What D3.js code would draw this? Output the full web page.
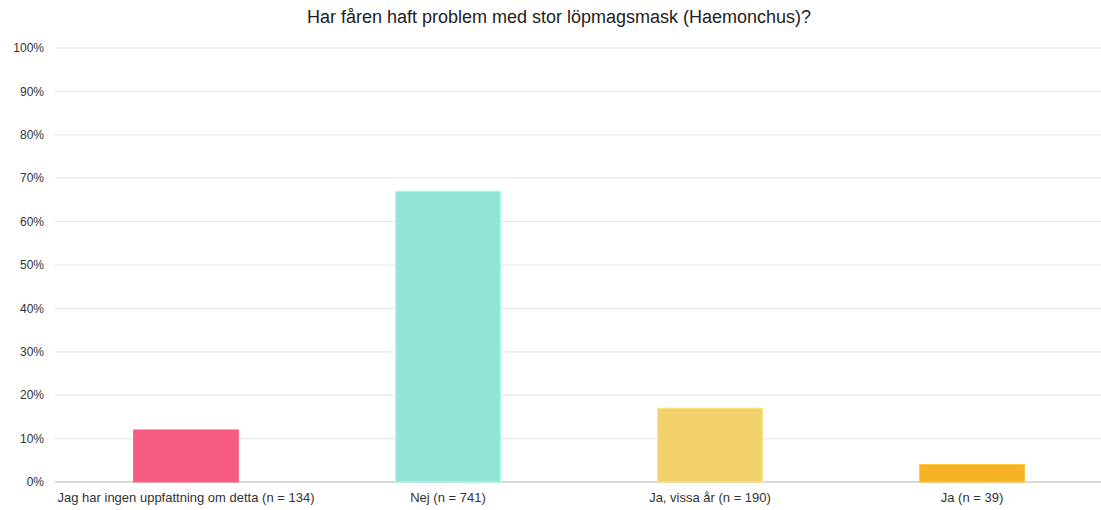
<!DOCTYPE html>
<html>
<head>
<meta charset="utf-8">
<script src="https://cdn.jsdelivr.net/npm/d3@7"></script>
<style>
  body { margin: 0; background: #fff; }
  text { font-family: "Liberation Sans", Arial, sans-serif; }
</style>
</head>
<body>
<div id="graph"></div>
<script>
var title = 'Har fåren haft problem med stor löpmagsmask (Haemonchus)?';
var categories = ['Jag har ingen uppfattning om detta (n = 134)', 'Nej (n = 741)', 'Ja, vissa år (n = 190)', 'Ja (n = 39)'];
var values = [12, 67, 17, 4];
var colors = ['#f65b80', '#93e5d7', '#f2d16c', '#f5b324'];
var yTicks = [0, 10, 20, 30, 40, 50, 60, 70, 80, 90, 100];

var width = 1101, height = 510;
var margin = {top: 48, right: 0, bottom: 28, left: 55};

var svg = d3.select('#graph').append('svg')
    .attr('width', width)
    .attr('height', height);

var x = d3.scaleBand()
    .domain(categories)
    .range([margin.left, margin.left + 4 * 262])
    .paddingInner(0.6)
    .paddingOuter(0.3);

var y = d3.scaleLinear()
    .domain([0, 100])
    .range([height - margin.bottom, margin.top]);

// gridlines
svg.append('g')
  .selectAll('line')
    .data(yTicks)
  .enter().append('line')
    .attr('x1', margin.left)
    .attr('x2', width)
    .attr('y1', function(d) { return y(d); })
    .attr('y2', function(d) { return y(d); })
    .attr('stroke', function(d) { return d === 0 ? '#cccccc' : '#e8e8e8'; })
    .attr('stroke-width', function(d) { return d === 0 ? 1.5 : 1.2; });

// y labels
svg.append('g')
  .selectAll('text')
    .data(yTicks)
  .enter().append('text')
    .attr('x', 44)
    .attr('y', function(d) { return y(d); })
    .attr('dy', '.35em')
    .attr('text-anchor', 'end')
    .attr('font-size', 12)
    .attr('fill', '#333')
    .text(function(d) { return d + '%'; });

// bars
svg.append('g')
  .selectAll('rect')
    .data(values)
  .enter().append('rect')
    .attr('x', function(d, i) { return x(categories[i]); })
    .attr('y', function(d) { return y(d); })
    .attr('width', x.bandwidth())
    .attr('height', function(d) { return y(0) - y(d); })
    .attr('fill', function(d, i) { return colors[i]; })
    .attr('stroke', function(d, i) { return d3.color(colors[i]).brighter(0.3); })
    .attr('stroke-width', 1);

// category labels
svg.append('g')
  .selectAll('text')
    .data(categories)
  .enter().append('text')
    .attr('x', function(d) { return x(d) + x.bandwidth() / 2; })
    .attr('y', height - margin.bottom + 20)
    .attr('text-anchor', 'middle')
    .attr('font-size', 13)
    .attr('fill', '#333')
    .text(function(d) { return d; });

svg.append('text')
    .attr('x', 559)
    .attr('y', 23)
    .attr('text-anchor', 'middle')
    .attr('font-size', 18)
    .attr('fill', '#222')
    .text(title);
</script>
</body>
</html>
